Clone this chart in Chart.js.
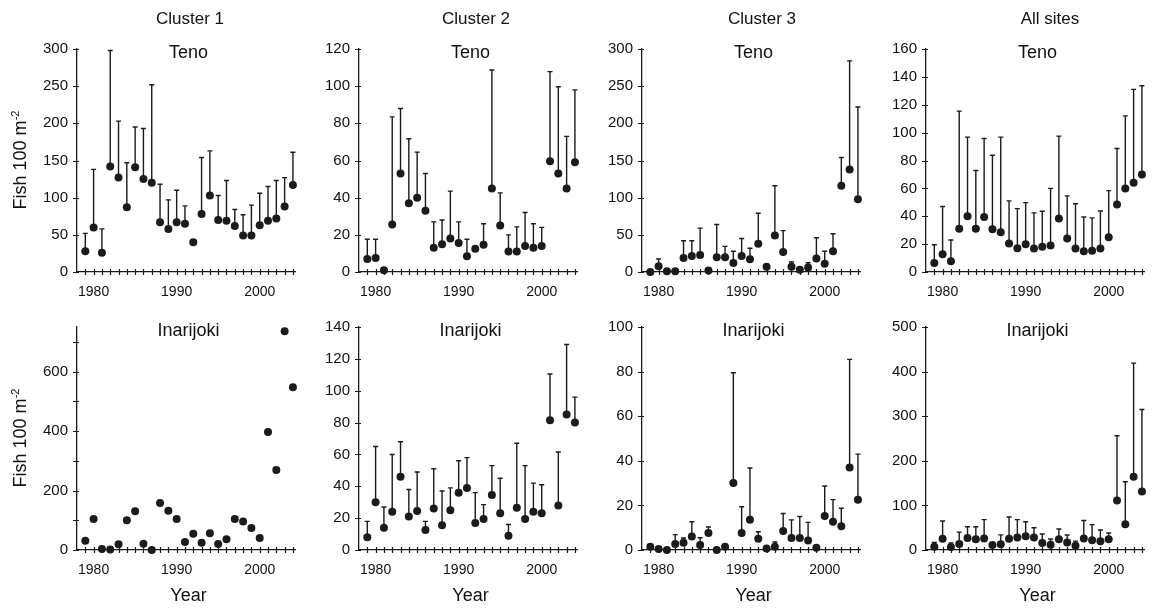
<!DOCTYPE html>
<html>
<head>
<meta charset="utf-8">
<script src="https://cdn.jsdelivr.net/npm/chart.js@4.4.1/dist/chart.umd.min.js"></script>
<style>
  body { margin: 0; background: #fff; font-family: "Liberation Sans", Arial, sans-serif; color: #111; }
  #wrap { position: relative; width: 1154px; height: 608px; overflow: hidden; }
  #wrap canvas { position: absolute; }
  .txt { position: absolute; white-space: nowrap; transform: translate(-50%, -50%); line-height: 1; }
  .col { font-size: 17px; }
  .sub { font-size: 18px; }
  .axt { font-size: 18px; }
  .rot { transform: translate(-50%, -50%) rotate(-90deg); }
  .rot sup { font-size: 11px; }
</style>
</head>
<body>
<div id="wrap"></div>
<script>
var years = [1979, 1980, 1981, 1982, 1983, 1984, 1985, 1986, 1987, 1988, 1989, 1990, 1991,
  1992, 1993, 1994, 1995, 1996, 1997, 1998, 1999, 2000, 2001, 2002, 2003, 2004];

var columns = ['Cluster 1', 'Cluster 2', 'Cluster 3', 'All sites'];
var rivers = ['Teno', 'Inarijoki'];

// Teno, means and upper limits
var c1Teno = [28, 60, 26, 142, 127, 87, 141, 125, 120, 67, 58, 67, 65, 40, 78, 103, 70, 69, 62, 49, 49, 63, 69, 72, 88, 117];
var c1TenoHi = [52, 138, 58, 298, 203, 147, 195, 193, 252, 118, 97, 110, 89, null, 154, 163, 103, 123, 84, 77, 90, 106, 115, 123, 127, 161];
var c2Teno = [7, 7.5, 1, 25.5, 53, 37, 40, 33, 13, 15, 18, 15.6, 8.5, 12.5, 14.7, 45, 25, 11, 11, 14, 13, 14, 59.6, 53, 45, 59];
var c2TenoHi = [17.6, 17.6, null, 83.5, 88, 71.7, 64.5, 53, 27, 28, 43.5, 27, 17.6, null, 26, 108.7, 42.6, 20, 24.3, 32, 26, 24, 107.8, 99.7, 73, 98];
var c3Teno = [0, 7.6, 1, 1, 19, 21.5, 23, 2, 20, 20, 12, 21.5, 17, 38, 7, 49, 27, 7, 3, 6, 18, 11, 28, 116, 138, 98];
var c3TenoHi = [null, 17.5, null, null, 42, 42, 59, null, 64, 34.5, 28, 45, 32, 79, null, 116, 55.6, 13.5, null, 12.5, 46, 28, 51.5, 154, 284, 222];
var allTeno = [6.5, 12.7, 7.7, 31, 40, 31, 39.5, 30.7, 28.5, 20.4, 17, 20, 16.8, 18.2, 19, 38.3, 24, 16.8, 14.8, 15.3, 16.8, 25, 48.4, 60, 64, 70];
var allTenoHi = [19.6, 47, 23, 115.4, 96.8, 72.8, 95.8, 83.8, 96.8, 51, 45.5, 49.8, 42.4, 43.6, 60, 97.5, 54.6, 49, 39.5, 38.8, 43.8, 58.4, 88.6, 112, 131, 133.6];

// Inarijoki, means and upper limits
var c1Inari = [31, 104, 3, 2, 19, 100, 130, 21, 0, 158, 132, 104, 27, 55, 24, 56, 20, 36, 104, 96, 74, 40, 397, 269, 736, 547];
var c2Inari = [8, 30, 14, 24, 46, 21, 24.5, 12.5, 26, 15.5, 25, 36, 39, 17, 19.5, 34.5, 23, 9, 26.5, 19.5, 24, 23, 81.5, 28, 85, 80];
var c2InariHi = [18, 65, 27, 60, 68, 38, 49, 18, 51, 37, 39, 56, 58, 36, 28.5, 53, 45, 16, 67, 53, 42, 41, 110.5, 61.5, 129, 96];
var c3Inari = [1.5, 0.5, 0, 2.7, 3.3, 6.1, 2.2, 7.6, 0, 1.5, 30, 7.6, 13.6, 5, 0.7, 1.5, 8.5, 5.4, 5.4, 4.3, 1, 15.2, 12.7, 10.6, 37, 22.5];
var c3InariHi = [null, null, null, 6.9, 5.4, 12.7, 5.5, 10.3, null, null, 79.5, 19.4, 36.8, 8.2, null, 3.6, 16.4, 13.5, 15, 12.4, null, 28.7, 22.6, 18.7, 85.5, 43];
var allInari = [7.5, 25, 7, 13.5, 27, 24, 26, 11, 12.7, 25, 28, 31, 28, 15.7, 12, 24, 17, 9.7, 26, 21.7, 19.4, 24, 111, 57.5, 164, 131];
var allInariHi = [17, 65, 16, 40, 52, 52, 68, null, 34, 74, 68, 63.5, 50, 36, 24.7, 47, 33.6, 20, 66, 57, 45, 38, 256, 153, 419, 315];

// y axis: max, tick step, label step
var tenoMax = [300, 120, 300, 160];
var tenoStep = [50, 20, 50, 20];
var inariMax = [750, 140, 100, 500];
var inariStep = [50, 20, 20, 100];
var inariLabelStep = [200, 20, 20, 100];

var INK = '#1b1b1b';
var axisX = [77, 359, 642, 926];
var rowTop = [49, 327];
var plotW = 227, plotH = 223;
var colTitleX = [190, 476, 762, 1050];

Chart.defaults.font.family = '"Liberation Sans", Arial, sans-serif';
Chart.defaults.color = '#111';

var wrap = document.getElementById('wrap');

function addText(cls, html, x, y) {
  var d = document.createElement('div');
  d.className = 'txt ' + cls;
  d.innerHTML = html;
  d.style.left = x + 'px';
  d.style.top = y + 'px';
  wrap.appendChild(d);
}

function errorBars(upper) {
  return {
    id: 'errorBars',
    beforeDatasetsDraw: function (chart) {
      if (!upper) return;
      var meta = chart.getDatasetMeta(0);
      var ys = chart.scales.y;
      var ctx = chart.ctx;
      ctx.save();
      ctx.strokeStyle = INK;
      ctx.lineWidth = 1.4;
      meta.data.forEach(function (pt, i) {
        if (upper[i] == null) return;
        var top = ys.getPixelForValue(upper[i]);
        ctx.beginPath();
        ctx.moveTo(pt.x, pt.y);
        ctx.lineTo(pt.x, top);
        ctx.moveTo(pt.x - 2.5, top);
        ctx.lineTo(pt.x + 2.5, top);
        ctx.stroke();
      });
      ctx.restore();
    },
  };
}

// tick marks that cross the axis lines
var crossTicks = {
  id: 'crossTicks',
  afterDraw: function (chart) {
    var xs = chart.scales.x, ys = chart.scales.y, ctx = chart.ctx;
    var a = chart.chartArea;
    ctx.save();
    ctx.strokeStyle = INK;
    ctx.lineWidth = 1.2;
    ctx.beginPath();
    years.forEach(function (yr) {
      var px = Math.round(xs.getPixelForValue(yr)) + 0.5;
      ctx.moveTo(px, a.bottom - 3);
      ctx.lineTo(px, a.bottom + 3);
    });
    ys.ticks.forEach(function (t) {
      var py = Math.round(ys.getPixelForValue(t.value)) + 0.5;
      ctx.moveTo(a.left - 4, py);
      ctx.lineTo(a.left + 2, py);
    });
    ctx.stroke();
    ctx.restore();
  },
};

function panel(col, row, values, upper, yMax, step, labelStep) {
  var cv = document.createElement('canvas');
  var left = axisX[col] - 70, top = rowTop[row] - 20;
  cv.width = 300;
  cv.height = 20 + plotH + 38;
  cv.style.left = left + 'px';
  cv.style.top = top + 'px';
  wrap.appendChild(cv);

  var pts = years.map(function (y, i) { return { x: y, y: values[i] }; });

  new Chart(cv, {
    type: 'scatter',
    data: {
      datasets: [{
        data: pts,
        pointRadius: 4,
        pointHoverRadius: 4,
        backgroundColor: INK,
        borderWidth: 0,
        clip: false,
      }],
    },
    options: {
      responsive: false,
      animation: false,
      layout: { padding: { left: 0, top: 20, right: 300 - 70 - plotW, bottom: 0 } },
      plugins: { legend: { display: false }, tooltip: { enabled: false } },
      scales: {
        x: {
          type: 'linear',
          min: 1978,
          max: 2004.25,
          grid: { display: false, drawTicks: false },
          border: { display: true, color: INK, width: 1.3 },
          ticks: {
            stepSize: 1,
            autoSkip: false,
            maxRotation: 0,
            padding: 12,
            font: { size: 14 },
            color: '#111',
            callback: function (v) { return v % 10 === 0 ? String(v) : ''; },
          },
          afterFit: function (s) { s.height = 38; },
        },
        y: {
          min: 0,
          max: yMax,
          grid: { display: false, drawTicks: false },
          border: { display: true, color: INK, width: 1.3 },
          ticks: {
            stepSize: step,
            padding: 9,
            font: { size: 15 },
            color: '#111',
            callback: function (v) { return v % labelStep === 0 ? String(v) : ''; },
          },
          afterFit: function (s) { s.width = 70; },
        },
      },
    },
    plugins: [errorBars(upper), crossTicks],
  });

  addText('sub', rivers[row], axisX[col] + plotW / 2 - 2, rowTop[row] + 3);
}

panel(0, 0, c1Teno, c1TenoHi, tenoMax[0], tenoStep[0], tenoStep[0]);
panel(1, 0, c2Teno, c2TenoHi, tenoMax[1], tenoStep[1], tenoStep[1]);
panel(2, 0, c3Teno, c3TenoHi, tenoMax[2], tenoStep[2], tenoStep[2]);
panel(3, 0, allTeno, allTenoHi, tenoMax[3], tenoStep[3], tenoStep[3]);
panel(0, 1, c1Inari, null, inariMax[0], inariStep[0], inariLabelStep[0]);
panel(1, 1, c2Inari, c2InariHi, inariMax[1], inariStep[1], inariLabelStep[1]);
panel(2, 1, c3Inari, c3InariHi, inariMax[2], inariStep[2], inariLabelStep[2]);
panel(3, 1, allInari, allInariHi, inariMax[3], inariStep[3], inariLabelStep[3]);

columns.forEach(function (c, i) {
  addText('col', c, colTitleX[i], 18);
  addText('axt', 'Year', axisX[i] + plotW / 2 - 2, 595);
});
addText('axt rot', 'Fish 100 m<sup>-2</sup>', 19, 160);
addText('axt rot', 'Fish 100 m<sup>-2</sup>', 19, 438);
</script>
</body>
</html>
